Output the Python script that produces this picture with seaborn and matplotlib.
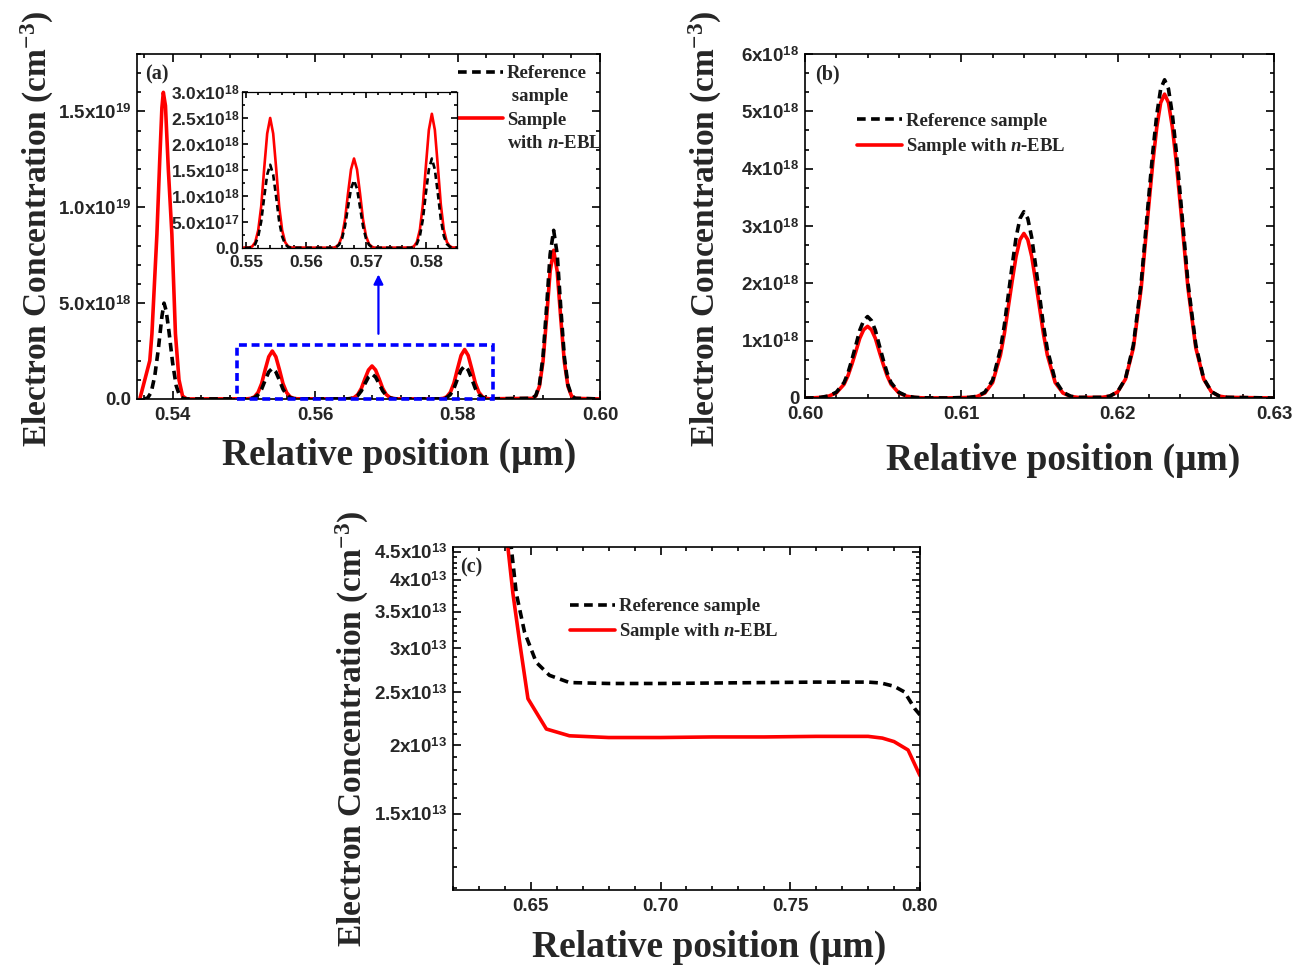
import numpy as np
import matplotlib
matplotlib.use("Agg")
import matplotlib.pyplot as plt
import seaborn as sns
from matplotlib.lines import Line2D
from matplotlib.patches import Rectangle
from matplotlib.ticker import MultipleLocator, FixedLocator, NullFormatter, AutoMinorLocator

# ---------------------------------------------------------------- data
E18 = 1e18
E13 = 1e13

# panel (a) -- values in 1e18 cm^-3
a_ref_x = [0.5360, 0.5365, 0.5370, 0.5375, 0.5380, 0.5385, 0.5388, 0.5391, 0.5395, 0.5400, 0.5405, 0.5410, 0.5415, 0.5420,
           0.5505, 0.5510, 0.5515, 0.5520, 0.5525, 0.5530, 0.5535, 0.5540, 0.5545, 0.5550, 0.5555, 0.5560, 0.5565, 0.5570, 0.5575,
           0.5645, 0.5650, 0.5655, 0.5660, 0.5665, 0.5670, 0.5675, 0.5680, 0.5685, 0.5690, 0.5695, 0.5700, 0.5705, 0.5710, 0.5715,
           0.5775, 0.5780, 0.5785, 0.5790, 0.5795, 0.5800, 0.5805, 0.5810, 0.5815, 0.5820, 0.5825, 0.5830, 0.5835, 0.5840, 0.5845,
           0.5905, 0.5910, 0.5915, 0.5920, 0.5925, 0.5930, 0.5935, 0.5940, 0.5945, 0.5950, 0.5955, 0.5960, 0.5965,
           0.6000]
a_ref_y = [0.0, 0.05, 0.35, 1.2, 2.6, 4.3, 5.0, 4.6, 3.5, 1.9, 0.7, 0.15, 0.02, 0.0,
           0.005, 0.019, 0.072, 0.22, 0.51, 0.98, 1.41, 1.60, 1.41, 0.98, 0.51, 0.22, 0.072, 0.019, 0.005,
           0.004, 0.016, 0.059, 0.18, 0.42, 0.79, 1.14, 1.30, 1.14, 0.79, 0.42, 0.18, 0.059, 0.016, 0.004,
           0.005, 0.021, 0.077, 0.23, 0.55, 1.05, 1.51, 1.72, 1.51, 1.05, 0.55, 0.23, 0.077, 0.021, 0.005,
           0.035, 0.185, 0.75, 2.2, 4.75, 7.54, 8.8, 7.54, 4.75, 2.2, 0.75, 0.185, 0.035,
           0.0]
a_ebl_x = [0.5354, 0.5361, 0.5368, 0.5371, 0.5378, 0.5382, 0.5385, 0.5387, 0.5390, 0.5394, 0.5399, 0.5404, 0.5409, 0.5414, 0.5420,
           0.5505, 0.5510, 0.5515, 0.5520, 0.5525, 0.5530, 0.5535, 0.5540, 0.5545, 0.5550, 0.5555, 0.5560, 0.5565, 0.5570, 0.5575,
           0.5645, 0.5650, 0.5655, 0.5660, 0.5665, 0.5670, 0.5675, 0.5680, 0.5685, 0.5690, 0.5695, 0.5700, 0.5705, 0.5710, 0.5715,
           0.5775, 0.5780, 0.5785, 0.5790, 0.5795, 0.5800, 0.5805, 0.5810, 0.5815, 0.5820, 0.5825, 0.5830, 0.5835, 0.5840, 0.5845,
           0.5905, 0.5910, 0.5915, 0.5920, 0.5925, 0.5930, 0.5935, 0.5940, 0.5945, 0.5950, 0.5955, 0.5960, 0.5965,
           0.6000]
a_ebl_y = [0.0, 1.0, 2.0, 3.4, 8.6, 12.5, 15.2, 16.0, 15.3, 12.0, 8.6, 3.4, 1.0, 0.15, 0.0,
           0.0075, 0.03, 0.11, 0.34, 0.80, 1.53, 2.20, 2.50, 2.20, 1.53, 0.80, 0.34, 0.11, 0.03, 0.0075,
           0.005, 0.021, 0.077, 0.23, 0.55, 1.05, 1.51, 1.72, 1.51, 1.05, 0.55, 0.23, 0.077, 0.021, 0.005,
           0.008, 0.031, 0.116, 0.35, 0.83, 1.57, 2.27, 2.58, 2.27, 1.57, 0.83, 0.35, 0.116, 0.031, 0.008,
           0.03, 0.16, 0.66, 1.94, 4.19, 6.65, 7.76, 6.65, 4.19, 1.94, 0.66, 0.16, 0.03,
           0.0]

# panel (b) -- values in 1e18 cm^-3
b_x = [0.6000,
       0.6005, 0.6010, 0.6015, 0.6020, 0.6025, 0.60275, 0.6030, 0.60325, 0.6035, 0.60375, 0.6040,
       0.60425, 0.6045, 0.60475, 0.6050, 0.60525, 0.6055, 0.6060, 0.6065, 0.6070, 0.6075,
       0.6090,
       0.6105, 0.6110, 0.6115, 0.6120, 0.6125, 0.61275, 0.6130, 0.61325, 0.6135, 0.61375, 0.6140,
       0.61425, 0.6145, 0.61475, 0.6150, 0.61525, 0.6155, 0.6160, 0.6165, 0.6170, 0.6175,
       0.6190, 0.6195, 0.6200, 0.6205, 0.6210, 0.6215, 0.62175, 0.6220, 0.62225, 0.6225, 0.62275, 0.6230,
       0.62325, 0.6235, 0.62375, 0.6240, 0.62425, 0.6245, 0.6250, 0.6255, 0.6260, 0.6265, 0.6270,
       0.6300]
b_ref_y = [0.0,
           0.003, 0.011, 0.035, 0.10, 0.27, 0.44, 0.67, 0.92, 1.18, 1.35, 1.42,
           1.35, 1.18, 0.92, 0.67, 0.44, 0.27, 0.10, 0.035, 0.011, 0.003,
           0.0,
           0.01, 0.03, 0.10, 0.31, 0.85, 1.27, 1.79, 2.31, 2.80, 3.13, 3.25,
           3.13, 2.80, 2.31, 1.79, 1.27, 0.85, 0.31, 0.10, 0.03, 0.01,
           0.011, 0.033, 0.11, 0.34, 0.92, 2.00, 2.78, 3.55, 4.30, 4.94, 5.39, 5.55,
           5.39, 4.94, 4.30, 3.55, 2.78, 2.00, 0.92, 0.34, 0.11, 0.033, 0.011,
           0.0]
b_ebl_y = [0.0,
           0.0025, 0.010, 0.031, 0.088, 0.24, 0.39, 0.59, 0.81, 1.04, 1.19, 1.25,
           1.19, 1.04, 0.81, 0.59, 0.39, 0.24, 0.088, 0.031, 0.010, 0.0025,
           0.0,
           0.009, 0.026, 0.086, 0.27, 0.75, 1.12, 1.58, 2.04, 2.47, 2.76, 2.87,
           2.76, 2.47, 2.04, 1.58, 1.12, 0.75, 0.27, 0.086, 0.026, 0.009,
           0.011, 0.032, 0.106, 0.33, 0.87, 1.91, 2.65, 3.39, 4.11, 4.72, 5.15, 5.30,
           5.15, 4.72, 4.11, 3.39, 2.65, 1.91, 0.87, 0.33, 0.106, 0.032, 0.011,
           0.0]

# panel (c) -- values in 1e13 cm^-3
c_ref_x = [0.6415, 0.6425, 0.6444, 0.6476, 0.6521, 0.6572, 0.6649, 0.6800, 0.7000,
           0.7200, 0.7400, 0.7600, 0.7800, 0.7850, 0.7900, 0.7940, 0.7980, 0.8000]
c_ref_y = [5.0, 4.57, 3.78, 3.21, 2.83, 2.68, 2.60, 2.59, 2.59,
           2.595, 2.60, 2.605, 2.605, 2.595, 2.56, 2.50, 2.33, 2.27]
c_ebl_x = [0.6405, 0.6412, 0.6431, 0.6457, 0.6489, 0.6560, 0.6649, 0.6800, 0.7000,
           0.7200, 0.7400, 0.7600, 0.7800, 0.7855, 0.7900, 0.7954, 0.8000]
c_ebl_y = [5.0, 4.57, 3.78, 3.08, 2.43, 2.14, 2.08, 2.065, 2.065,
           2.07, 2.07, 2.075, 2.075, 2.06, 2.03, 1.96, 1.76]

# tick values / labels
a_xticks = [0.54, 0.56, 0.58, 0.60]
a_xlabels = ["0.54", "0.56", "0.58", "0.60"]
a_yticks = [0.0, 5.0, 10.0, 15.0]
a_ylabels = ["0.0", r"5.0x10$^{\mathrm{18}}$", r"1.0x10$^{\mathrm{19}}$", r"1.5x10$^{\mathrm{19}}$"]
ins_xticks = [0.55, 0.56, 0.57, 0.58]
ins_xlabels = ["0.55", "0.56", "0.57", "0.58"]
ins_yticks = [0.0, 0.5, 1.0, 1.5, 2.0, 2.5, 3.0]
ins_ylabels = ["0.0", r"5.0x10$^{\mathrm{17}}$", r"1.0x10$^{\mathrm{18}}$", r"1.5x10$^{\mathrm{18}}$",
               r"2.0x10$^{\mathrm{18}}$", r"2.5x10$^{\mathrm{18}}$", r"3.0x10$^{\mathrm{18}}$"]
b_xticks = [0.60, 0.61, 0.62, 0.63]
b_xlabels = ["0.60", "0.61", "0.62", "0.63"]
b_yticks = [0, 1, 2, 3, 4, 5, 6]
b_ylabels = ["0"] + [r"%dx10$^{\mathrm{18}}$" % v for v in range(1, 7)]
c_xticks = [0.65, 0.70, 0.75, 0.80]
c_xlabels = ["0.65", "0.70", "0.75", "0.80"]
c_yticks = [1.5, 2.0, 2.5, 3.0, 3.5, 4.0, 4.5]
c_ylabels = [r"1.5x10$^{\mathrm{13}}$", r"2x10$^{\mathrm{13}}$", r"2.5x10$^{\mathrm{13}}$", r"3x10$^{\mathrm{13}}$",
             r"3.5x10$^{\mathrm{13}}$", r"4x10$^{\mathrm{13}}$", r"4.5x10$^{\mathrm{13}}$"]

# zoom box / arrow of panel (a) (data units, 1e18)
box_x = [0.5491, 0.5850]
box_y = [0.0, 2.8]
arrow_x = 0.5689
arrow_y = [3.4, 6.5]

ref_label = "Reference sample"
ebl_label = r"Sample with $\mathit{n}$-EBL"
xlab = "Relative position (\u03bcm)"
ylab = r"Electron Concentration (cm$^{\mathbf{-3}}$)"

# ---------------------------------------------------------------- style
sns.set_theme(style="ticks")
plt.rcParams.update({
    "font.family": ["Liberation Sans", "DejaVu Sans"],
    "font.weight": "bold",
    "mathtext.fontset": "custom",
    "mathtext.rm": "Liberation Sans",
    "mathtext.bf": "Liberation Serif:bold",
    "mathtext.it": "Liberation Serif:italic:bold",
    "axes.linewidth": 1.2,
    "axes.edgecolor": "black",
    "axes.facecolor": "white",
    "figure.facecolor": "white",
})

RED = "#ff0000"
BLACK = "#000000"
DASH = (0, (2.4, 1.5))
SERIF = dict(fontfamily="Liberation Serif", fontweight="bold")
XLAB_SIZE = 27
YLAB_SIZE = 24

fig = plt.figure(figsize=(13.02, 9.66), dpi=100)
ax_a = fig.add_axes([0.1052, 0.5870, 0.3556, 0.3571])
ax_b = fig.add_axes([0.6183, 0.5880, 0.3602, 0.3561])
ax_c = fig.add_axes([0.3479, 0.0787, 0.3587, 0.3551])
ax_i = fig.add_axes([0.1859, 0.7433, 0.1651, 0.1615])


def draw_pair(ax, xr, yr, xe, ye, scale, lw_r=2.6, lw_k=2.6):
    sns.lineplot(x=np.asarray(xe), y=np.asarray(ye) * scale, ax=ax, color=RED, linewidth=lw_r,
                 estimator=None, sort=False, errorbar=None)
    red = ax.lines[-1]
    sns.lineplot(x=np.asarray(xr), y=np.asarray(yr) * scale, ax=ax, color=BLACK, linewidth=lw_k,
                 linestyle=DASH, estimator=None, sort=False, errorbar=None)
    blk = ax.lines[-1]
    return red, blk


def style(ax, size=13.5):
    ax.tick_params(which="both", direction="in", top=True, right=True, width=1.2, color="black")
    ax.tick_params(which="major", length=6, labelsize=size, pad=4)
    ax.tick_params(axis="x", which="major", pad=6)
    ax.tick_params(which="minor", length=3)
    for lab in ax.get_xticklabels() + ax.get_yticklabels():
        lab.set_fontweight("bold")
        lab.set_fontfamily("Liberation Sans")
    for s in ax.spines.values():
        s.set_visible(True)
        s.set_color("black")


leg_prop = dict(family="Liberation Serif", weight="bold", size=13.5)
LEG_KW = dict(loc="upper left", frameon=False, prop=leg_prop, handlelength=2.4, handletextpad=0.2,
              labelspacing=0.33, borderpad=0, borderaxespad=0)
blank = Line2D([], [], color="none")

# ---------------------------------------------------------------- (a)
ra, ka = draw_pair(ax_a, a_ref_x, a_ref_y, a_ebl_x, a_ebl_y, E18)
ax_a.set_xlim(0.535, 0.600)
ax_a.set_ylim(0, 18 * E18)
ax_a.set_xticks(a_xticks, a_xlabels)
ax_a.set_yticks([v * E18 for v in a_yticks], a_ylabels)
ax_a.xaxis.set_minor_locator(MultipleLocator(0.004))
ax_a.yaxis.set_minor_locator(MultipleLocator(1 * E18))
style(ax_a)
ax_a.set_xlabel(xlab, fontsize=XLAB_SIZE, **SERIF)
ax_a.set_ylabel(ylab, fontsize=YLAB_SIZE, **SERIF)
ax_a.xaxis.set_label_coords(0.566, -0.113)
ax_a.yaxis.set_label_coords(-0.175, 0.493)
ax_a.text(0.017, 0.94, "(a)", transform=ax_a.transAxes, fontsize=14.5, va="center", ha="left", **SERIF)
ax_a.add_patch(Rectangle((box_x[0], box_y[0] * E18), box_x[1] - box_x[0], (box_y[1] - box_y[0]) * E18,
                         fill=False, edgecolor="#0000ff", lw=2.6, linestyle=(0, (2.2, 1.3)),
                         clip_on=False, zorder=5))
ax_a.annotate("", xy=(arrow_x, arrow_y[1] * E18), xytext=(arrow_x, arrow_y[0] * E18),
              arrowprops=dict(arrowstyle="-|>", color="#0000ff", lw=1.6, mutation_scale=14,
                              shrinkA=0, shrinkB=0))
ax_a.legend([ka, blank, ra, blank], ["Reference", " sample", "Sample", r"with $\mathit{n}$-EBL"],
            bbox_to_anchor=(0.693, 0.968), **LEG_KW)

# inset
draw_pair(ax_i, a_ref_x, a_ref_y, a_ebl_x, a_ebl_y, E18, lw_r=1.9, lw_k=1.9)
ax_i.set_xlim(box_x[0] + 0.0002, box_x[1] + 0.0002)
ax_i.set_ylim(0, 3 * E18)
ax_i.set_xticks(ins_xticks, ins_xlabels)
ax_i.set_yticks([v * E18 for v in ins_yticks], ins_ylabels)
ax_i.xaxis.set_minor_locator(MultipleLocator(0.002))
ax_i.yaxis.set_minor_locator(MultipleLocator(0.25 * E18))
style(ax_i, size=12.5)
ax_i.tick_params(which="major", length=4, pad=2)
ax_i.tick_params(axis="x", which="major", pad=5)
ax_i.tick_params(which="minor", length=2)
for s in ax_i.spines.values():
    s.set_linewidth(0.9)
ax_i.set_xlabel("")
ax_i.set_ylabel("")

# ---------------------------------------------------------------- (b)
rb, kb = draw_pair(ax_b, b_x, b_ref_y, b_x, b_ebl_y, E18)
ax_b.set_xlim(0.600, 0.630)
ax_b.set_ylim(0, 6 * E18)
ax_b.set_xticks(b_xticks, b_xlabels)
ax_b.set_yticks([v * E18 for v in b_yticks], b_ylabels)
ax_b.xaxis.set_minor_locator(MultipleLocator(0.002))
ax_b.yaxis.set_minor_locator(AutoMinorLocator(3))
style(ax_b)
ax_b.set_xlabel(xlab, fontsize=XLAB_SIZE, **SERIF)
ax_b.set_ylabel(ylab, fontsize=YLAB_SIZE, **SERIF)
ax_b.xaxis.set_label_coords(0.55, -0.131)
ax_b.yaxis.set_label_coords(-0.172, 0.493)
ax_b.text(0.021, 0.94, "(b)", transform=ax_b.transAxes, fontsize=14.5, va="center", ha="left", **SERIF)
ax_b.legend([kb, rb], [ref_label, ebl_label], bbox_to_anchor=(0.111, 0.829), **LEG_KW)

# ---------------------------------------------------------------- (c)
rc, kc = draw_pair(ax_c, c_ref_x, c_ref_y, c_ebl_x, c_ebl_y, E13)
ax_c.set_yscale("log")
ax_c.set_xlim(0.62, 0.80)
ax_c.set_ylim(1.09 * E13, 4.59 * E13)
ax_c.set_xticks(c_xticks, c_xlabels)
ax_c.yaxis.set_major_locator(FixedLocator([v * E13 for v in c_yticks]))
ax_c.set_yticks([v * E13 for v in c_yticks], c_ylabels)
ax_c.yaxis.set_minor_locator(FixedLocator([v * E13 for v in np.arange(1.1, 4.61, 0.1)]))
ax_c.yaxis.set_minor_formatter(NullFormatter())
ax_c.xaxis.set_minor_locator(MultipleLocator(0.01))
style(ax_c)
ax_c.set_xlabel(xlab, fontsize=XLAB_SIZE, **SERIF)
ax_c.set_ylabel(ylab, fontsize=YLAB_SIZE, **SERIF)
ax_c.xaxis.set_label_coords(0.548, -0.117)
ax_c.yaxis.set_label_coords(-0.175, 0.47)
ax_c.text(0.015, 0.94, "(c)", transform=ax_c.transAxes, fontsize=14.5, va="center", ha="left", **SERIF)
ax_c.legend([kc, rc], [ref_label, ebl_label], bbox_to_anchor=(0.2505, 0.851), **LEG_KW)

fig.savefig("out.png", dpi=100)
